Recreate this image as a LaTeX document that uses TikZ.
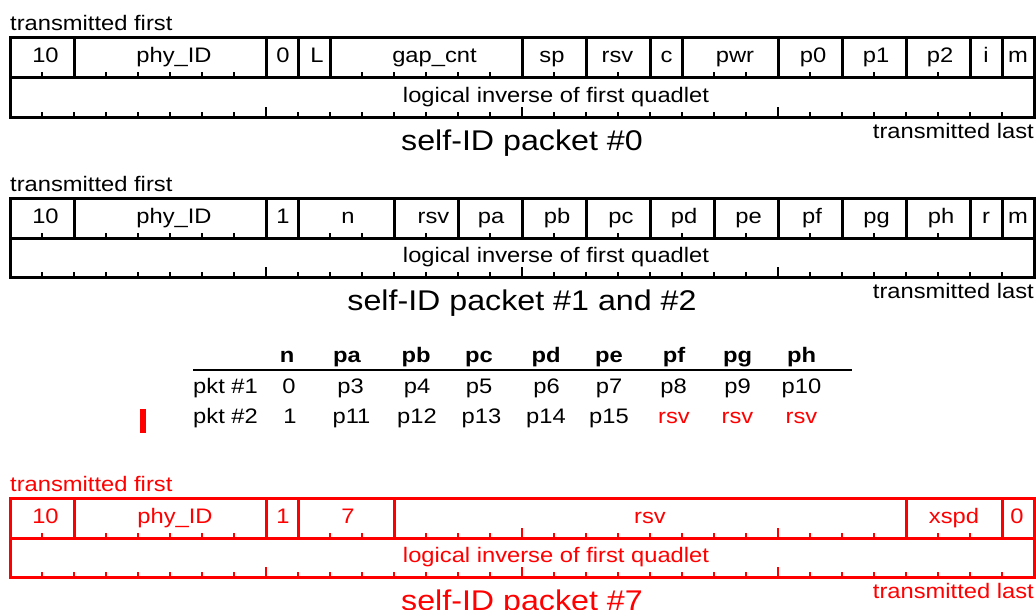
\documentclass[tikz,border=0pt]{standalone}
\usepackage{fontspec}
\setmainfont{Liberation Sans}[FakeStretch=1.13]

% Outer frame, row divider, bit ticks and field separators of one quadlet pair.
% #1: bit positions of the separators in the first quadlet.
\newcommand\pktframe[1]{%
  \draw[frame] (10,38) rectangle (1034,117);
  \draw[frame] (10,78) -- (1034,78);
  \foreach \k in {1,...,31}{%
    \pgfmathsetmacro\tl{ifthenelse(mod(\k,8)==0,10,5.5)}%
    \draw[tickmark] ({10+32*\k},78) -- ++(0,-\tl);
    \draw[tickmark] ({10+32*\k},117) -- ++(0,-\tl);
  }%
  \foreach \b in {#1}{\draw[frame] ({10+32*\b},38) -- ({10+32*\b},78);}%
}

\begin{document}
\begin{tikzpicture}[x=1pt,y=-1pt,
  frame/.style={line width=3pt},
  tickmark/.style={line width=2pt},
  lbl/.style={font=\fontsize{21}{25}\selectfont, inner sep=0pt, anchor=base},
  hdr/.style={font=\fontsize{21}{25}\selectfont\bfseries, inner sep=0pt, anchor=base},
  ttl/.style={font=\fontsize{28.5}{34}\selectfont, inner sep=0pt, anchor=base},
]
\useasboundingbox (0,0) rectangle (1036,610);

% ---------------- self-ID packet #0 ----------------
\begin{scope}
  \pktframe{2,8,9,10,16,18,20,21,24,26,28,30,31}
  \node[lbl, anchor=base west] (a-first) at (10,31) {transmitted first};
  \node[lbl, anchor=base east] (a-last) at (1034,138) {transmitted last};
  \node[lbl] (a-10)  at (45.5,63) {10};
  \node[lbl] (a-phy) at (174,63) {phy\_ID};
  \node[lbl] (a-0)   at (283,63) {0};
  \node[lbl] (a-L)   at (317,63) {L};
  \node[lbl] (a-gap) at (434.5,63) {gap\_cnt};
  \node[lbl] (a-sp)  at (552,63) {sp};
  \node[lbl] (a-rsv) at (617.5,63) {rsv};
  \node[lbl] (a-c)   at (666.5,63) {c};
  \node[lbl] (a-pwr) at (735,63) {pwr};
  \node[lbl] (a-p0)  at (813,63) {p0};
  \node[lbl] (a-p1)  at (876,63) {p1};
  \node[lbl] (a-p2)  at (940,63) {p2};
  \node[lbl] (a-i)   at (986,63) {i};
  \node[lbl] (a-m)   at (1018,63) {m};
  \node[lbl] (a-inv) at (556,102) {logical inverse of first quadlet};
  \node[ttl] (a-ttl) at (522,150) {self-ID packet \#0};
\end{scope}

% ---------------- self-ID packets #1 and #2 ----------------
\begin{scope}[shift={(0,160)}]
  \pktframe{2,8,9,12,14,16,18,20,22,24,26,28,30,31}
  \node[lbl, anchor=base west] (b-first) at (10,31) {transmitted first};
  \node[lbl, anchor=base east] (b-last) at (1034,138) {transmitted last};
  \node[lbl] (b-10)  at (45.5,63) {10};
  \node[lbl] (b-phy) at (174,63) {phy\_ID};
  \node[lbl] (b-1)   at (283,63) {1};
  \node[lbl] (b-n)   at (348,63) {n};
  \node[lbl] (b-rsv) at (433.5,63) {rsv};
  \node[lbl] (b-pa)  at (491,63) {pa};
  \node[lbl] (b-pb)  at (557,63) {pb};
  \node[lbl] (b-pc)  at (621,63) {pc};
  \node[lbl] (b-pd)  at (684,63) {pd};
  \node[lbl] (b-pe)  at (748.5,63) {pe};
  \node[lbl] (b-pf)  at (812,63) {pf};
  \node[lbl] (b-pg)  at (876.5,63) {pg};
  \node[lbl] (b-ph)  at (941,63) {ph};
  \node[lbl] (b-r)   at (986,63) {r};
  \node[lbl] (b-m)   at (1018,63) {m};
  \node[lbl] (b-inv) at (556,102) {logical inverse of first quadlet};
  \node[ttl] (b-ttl) at (522,150) {self-ID packet \#1 and \#2};
\end{scope}

% ---------------- port assignment table ----------------
\node[hdr] (h-n)  at (287,362) {n};
\node[hdr] (h-pa) at (347,362) {pa};
\node[hdr] (h-pb) at (416,362) {pb};
\node[hdr] (h-pc) at (479,362) {pc};
\node[hdr] (h-pd) at (546,362) {pd};
\node[hdr] (h-pe) at (609,362) {pe};
\node[hdr] (h-pf) at (674,362) {pf};
\node[hdr] (h-pg) at (737.5,362) {pg};
\node[hdr] (h-ph) at (801.5,362) {ph};
\coordinate (rule-l) at (193,370);
\coordinate (rule-r) at (852,370);
\draw[line width=2.5pt] (rule-l) -- (rule-r);

\node[lbl, anchor=base west] (r1) at (193,393) {pkt \#1};
\node[lbl] (r1-n)  at (289,393) {0};
\node[lbl] (r1-pa) at (350.5,393) {p3};
\node[lbl] (r1-pb) at (417,393) {p4};
\node[lbl] (r1-pc) at (479,393) {p5};
\node[lbl] (r1-pd) at (546.5,393) {p6};
\node[lbl] (r1-pe) at (609,393) {p7};
\node[lbl] (r1-pf) at (673.5,393) {p8};
\node[lbl] (r1-pg) at (737.5,393) {p9};
\node[lbl] (r1-ph) at (801.5,393) {p10};

\node[lbl, anchor=base west] (r2) at (193,423) {pkt \#2};
\node[lbl] (r2-n)  at (290,423) {1};
\node[lbl] (r2-pa) at (351.5,423) {p11};
\node[lbl] (r2-pb) at (417,423) {p12};
\node[lbl] (r2-pc) at (481.5,423) {p13};
\node[lbl] (r2-pd) at (546,423) {p14};
\node[lbl] (r2-pe) at (609,423) {p15};
\node[lbl, red] (r2-pf) at (674,423) {rsv};
\node[lbl, red] (r2-pg) at (737.5,423) {rsv};
\node[lbl, red] (r2-ph) at (801.5,423) {rsv};

\node[fill=red, inner sep=0pt, minimum width=6pt, minimum height=24pt] (mark) at (143,421) {};

% ---------------- self-ID packet #7 ----------------
\begin{scope}[shift={(0,460)}, color=red]
  \pktframe{2,8,9,12,28,31}
  \node[lbl, anchor=base west] (c-first) at (10,31) {transmitted first};
  \node[lbl, anchor=base east] (c-last) at (1034,138) {transmitted last};
  \node[lbl] (c-10)   at (45.5,63) {10};
  \node[lbl] (c-phy)  at (175,63) {phy\_ID};
  \node[lbl] (c-1)    at (283,63) {1};
  \node[lbl] (c-7)    at (348,63) {7};
  \node[lbl] (c-rsv)  at (650,63) {rsv};
  \node[lbl] (c-xspd) at (954,63) {xspd};
  \node[lbl] (c-0)    at (1017,63) {0};
  \node[lbl] (c-inv)  at (556,102) {logical inverse of first quadlet};
  \node[ttl] (c-ttl)  at (522,150) {self-ID packet \#7};
\end{scope}
\end{tikzpicture}
\end{document}
